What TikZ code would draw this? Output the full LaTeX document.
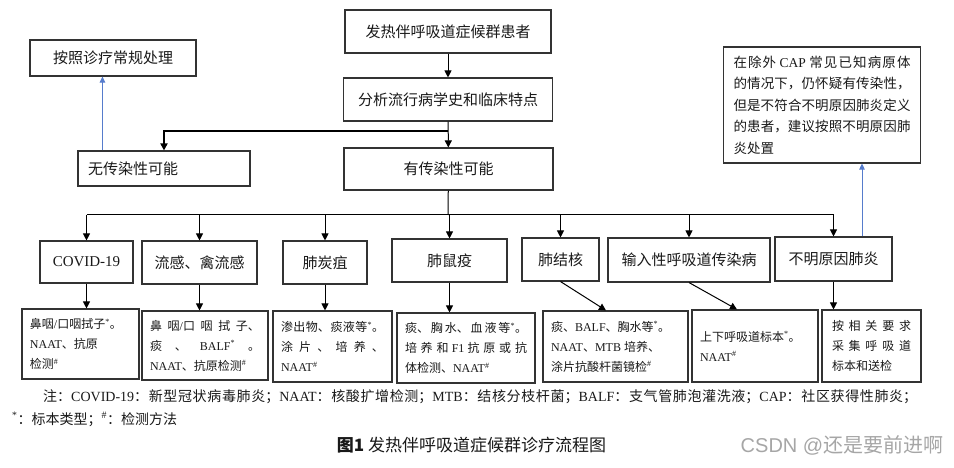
\documentclass[tikz,border=0pt]{standalone}
\usepackage{fontspec}
\setmainfont{Liberation Serif}
\setsansfont{Liberation Sans}
\newfontfamily\cjk{Noto Sans CJK SC}
\usetikzlibrary{arrows.meta}
\definecolor{arrowblue}{RGB}{86,124,204}

% CJK characters switch to the CJK family, the rest stays in \latinfont
\XeTeXlinebreaklocale "zh"
\XeTeXlinebreakskip=0pt plus 20pt
\newXeTeXintercharclass\cjkclass
\newcount\cjkc
\cjkc="4E00 \loop\XeTeXcharclass\cjkc=\cjkclass\advance\cjkc by 1 \ifnum\cjkc<"A000 \repeat
\cjkc="3000 \loop\XeTeXcharclass\cjkc=\cjkclass\advance\cjkc by 1 \ifnum\cjkc<"3040 \repeat
\cjkc="FF00 \loop\XeTeXcharclass\cjkc=\cjkclass\advance\cjkc by 1 \ifnum\cjkc<"FFF0 \repeat
\def\latinfont{\rmfamily}
\XeTeXinterchartoks 0 \cjkclass={\cjk}
\XeTeXinterchartoks 4095 \cjkclass={\cjk}
\XeTeXinterchartoks \cjkclass 0={\latinfont}
\XeTeXinterchartoks \cjkclass 4095={\latinfont}
\XeTeXinterchartokenstate=1

\newcommand{\spec}{\textsuperscript{*}}
\newcommand{\meth}{\textsuperscript{\#}}
\newcommand{\gap}{\hspace{0pt plus 1fil}}

\begin{document}
\begin{tikzpicture}[x=1pt, y=-1pt,
    mainbox/.style={draw=black!80, line width=1.1pt, inner sep=0pt, text=black!90,
        font=\fontsize{15}{18}\selectfont},
    detailbox/.style={draw=black!80, line width=1.1pt, inner xsep=8pt, inner ysep=0pt,
        text=black!90, align=justify, font=\fontsize{12}{20}\selectfont},
    arr/.style={-{Triangle[length=7pt,width=7pt]}, line width=1pt, black},
    forkline/.style={-{Triangle[length=7pt,width=7pt]}, line width=1.7pt, black},
    bluearr/.style={-{Triangle[length=6pt,width=5.5pt]}, line width=0.8pt, arrowblue}]
\path[fill=white, use as bounding box] (0,0) rectangle (954,468);

\node[mainbox, minimum width=206, minimum height=43] (patient) at (448,31.5) {发热伴呼吸道症候群患者};
\node[mainbox, minimum width=209, minimum height=43] (history) at (448,99.5) {分析流行病学史和临床特点};
\node[mainbox, minimum width=166, minimum height=36] (routine) at (113,58) {按照诊疗常规处理};
\node[mainbox, text width=152, inner xsep=10pt, align=left, minimum height=35] (noinf) at (164,168.5) {无传染性可能};
\node[mainbox, minimum width=209, minimum height=42] (inf) at (448.5,169) {有传染性可能};
\node[detailbox, font=\fontsize{13.5}{21.5}\selectfont, text width=177, inner xsep=10pt, minimum height=116] (capnote) at (822,105)
    {在除外 CAP 常见已知病原体\linebreak 的情况下，仍怀疑有传染性，\linebreak 但是不符合不明原因肺炎定义\linebreak 的患者，建议按照不明原因肺\linebreak 炎处置};

\node[mainbox, minimum width=93, minimum height=42] (covid) at (86.5,262) {COVID-19};
\node[mainbox, minimum width=115, minimum height=43] (flu) at (199.5,262.5) {流感、禽流感};
\node[mainbox, minimum width=84, minimum height=43] (anthrax) at (325,262.5) {肺炭疽};
\node[mainbox, minimum width=115, minimum height=43] (plague) at (449.5,260.5) {肺鼠疫};
\node[mainbox, minimum width=77, minimum height=43] (tb) at (560.5,259.5) {肺结核};
\node[mainbox, minimum width=162, minimum height=44] (imported) at (689,260) {输入性呼吸道传染病};
\node[mainbox, minimum width=117, minimum height=44] (unknown) at (833.5,259) {不明原因肺炎};

\node[detailbox, text width=101, minimum height=70] (d1) at (80.5,344) {鼻咽/口咽拭子\spec。\\ NAAT、抗原\\ 检测\meth};
\node[detailbox, text width=110, minimum height=69] (d2) at (205,345.5) {鼻咽/口咽拭子、\linebreak 痰\gap 、\gap BALF\spec\gap 。\linebreak NAAT、抗原检测\meth};
\node[detailbox, text width=103, minimum height=71] (d3) at (332.5,346.5) {渗出物、痰液等\spec。\linebreak 涂\gap 片\gap 、\gap 培\gap 养\gap 、\linebreak NAAT\meth};
\node[detailbox, text width=122, minimum height=70] (d4) at (466,348) {痰、胸水、血液等\spec。\linebreak 培养和 F1 抗原或抗\linebreak 体检测、NAAT\meth};
\node[detailbox, text width=129, minimum height=71] (d5) at (615.5,346.5) {痰、BALF、胸水等\spec。\\ NAAT、MTB 培养、\\ 涂片抗酸杆菌镜检\meth};
\node[detailbox, text width=110, minimum height=72] (d6) at (755,346) {上下呼吸道标本\spec。\\ NAAT\meth};
\node[detailbox, text width=79, inner xsep=10pt, minimum height=72] (d7) at (871.5,346) {按\gap 相\gap 关\gap 要\gap 求\linebreak 采\gap 集\gap 呼\gap 吸\gap 道\linebreak 标本和送检};

\coordinate (fork) at (448,131);
\coordinate (spread) at (448,215);
\draw[arr] (patient) -- (history);
\draw[arr] (history) -- (inf);
\draw[forkline] (fork) -| (noinf);
\coordinate (up1) at ([xshift=25pt]noinf.north west);
\draw[bluearr] (up1) -- (up1 |- routine.south);

\draw[line width=1pt] (inf) -- (spread);
\draw[line width=1pt] (spread -| covid) -- (spread -| unknown);
\foreach \n in {covid,flu,anthrax,plague,tb,imported,unknown}
    \draw[arr] (spread -| \n) -- (\n);

\draw[arr] (covid) -- (covid |- d1.north);
\draw[arr] (flu) -- (flu |- d2.north);
\draw[arr] (anthrax) -- (anthrax |- d3.north);
\draw[arr] (plague) -- (plague |- d4.north);
\draw[arr] (tb.south) -- ([xshift=-9.5pt]d5.north);
\draw[arr] (imported.south) -- ([xshift=-18pt]d6.north);
\draw[arr] (unknown) -- (unknown |- d7.north);
\coordinate (up2) at ([xshift=28.5pt]unknown.north);
\draw[bluearr] (up2) -- (up2 |- capnote.south);

\node[anchor=north west, inner sep=0pt, text width=905, align=justify, text=black!90,
    font=\fontsize{14}{23}\selectfont] (notes) at (12,389)
    {\hspace*{31pt}注：COVID-19：新型冠状病毒肺炎；NAAT：核酸扩增检测；MTB：结核分枝杆菌；BALF：支气管肺泡灌洗液；CAP：社区获得性肺炎；\linebreak
    \textsuperscript{*}：标本类型；\textsuperscript{\#}：检测方法};
\node[font=\fontsize{17}{20}\selectfont, text=black!90] (caption) at (471.5,445)
    {\def\latinfont{\cjk}\cjk\textbf{图1}\ 发热伴呼吸道症候群诊疗流程图};
\node[font=\sffamily\fontsize{20}{22}\selectfont, text=black!35] (mark) at (842,445)
    {\def\latinfont{\sffamily}CSDN @还是要前进啊};
\end{tikzpicture}
\end{document}
